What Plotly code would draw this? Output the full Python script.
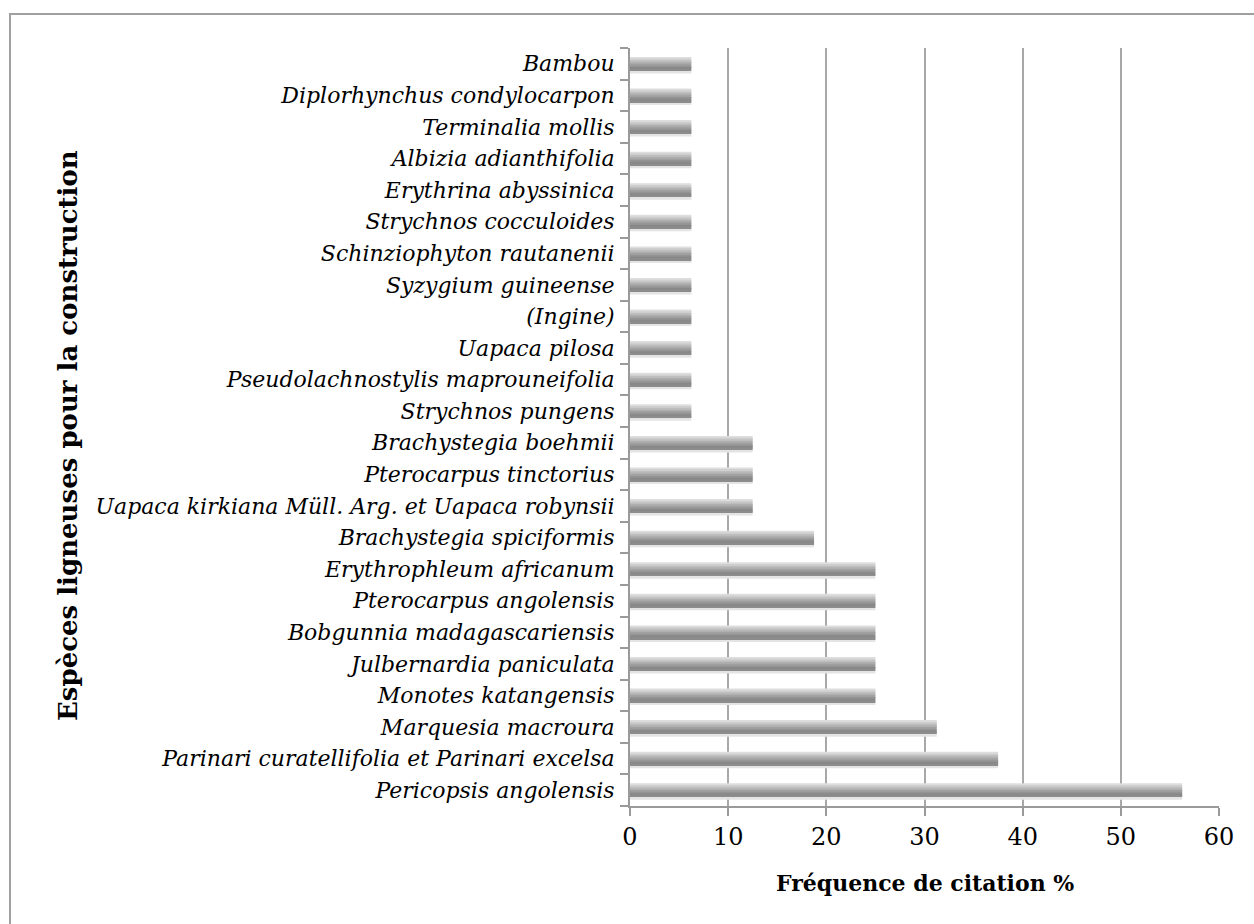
import plotly.graph_objects as go

# Species, listed bottom to top as they appear on the chart
species = [
    "Pericopsis angolensis",
    "Parinari curatellifolia et Parinari excelsa",
    "Marquesia macroura",
    "Monotes katangensis",
    "Julbernardia paniculata",
    "Bobgunnia madagascariensis",
    "Pterocarpus angolensis",
    "Erythrophleum africanum",
    "Brachystegia spiciformis",
    "Uapaca kirkiana Müll. Arg. et Uapaca robynsii",
    "Pterocarpus tinctorius",
    "Brachystegia boehmii",
    "Strychnos pungens",
    "Pseudolachnostylis maprouneifolia",
    "Uapaca pilosa",
    "(Ingine)",
    "Syzygium guineense",
    "Schinziophyton rautanenii",
    "Strychnos cocculoides",
    "Erythrina abyssinica",
    "Albizia adianthifolia",
    "Terminalia mollis",
    "Diplorhynchus condylocarpon",
    "Bambou",
]

# Citation frequency (%)
frequency = [
    56.25, 37.5, 31.25, 25, 25, 25, 25, 25, 18.75, 12.5, 12.5, 12.5,
    6.25, 6.25, 6.25, 6.25, 6.25, 6.25, 6.25, 6.25, 6.25, 6.25, 6.25, 6.25,
]

x_ticks = [0, 10, 20, 30, 40, 50, 60]

fig = go.Figure()

# Shaded cylinder look: stack thin horizontal slices, light on top to dark below,
# with a faint shadow band under each bar.
bar_thick = 0.43
shades = ["#dedede", "#cfcfcf", "#bebebe", "#afafaf", "#a0a0a0",
          "#939393", "#888888", "#8c8c8c"]
n = len(shades)
slice_w = bar_thick / n
top = bar_thick / 2
# shadow under the bar
fig.add_trace(go.Bar(
    y=species, x=frequency, orientation="h",
    width=0.09, offset=-top - 0.09,
    marker=dict(color="#e4e4e4", line=dict(width=0)),
    hoverinfo="skip", showlegend=False,
))
for i, c in enumerate(shades):
    fig.add_trace(go.Bar(
        y=species, x=frequency, orientation="h",
        width=slice_w + 0.003, offset=top - (i + 1) * slice_w,
        marker=dict(color=c, line=dict(width=0)),
        hoverinfo="skip" if i else None, showlegend=False,
    ))

axis_col = "#9a9a9a"
font_family = "DejaVu Serif"

fig.update_layout(
    width=1254, height=924,
    margin=dict(l=630, r=35, t=48, b=118),
    barmode="overlay",
    plot_bgcolor="white", paper_bgcolor="white",
    font=dict(family=font_family, color="black"),
    xaxis=dict(
        range=[0, 60], tickvals=x_ticks, ticktext=[str(v) for v in x_ticks],
        showgrid=True, gridcolor="#a8a8a8", gridwidth=2,
        showline=True, linecolor=axis_col, linewidth=2,
        ticks="outside", ticklen=8, tickwidth=2, tickcolor=axis_col,
        tickfont=dict(size=24, family=font_family),
        ticklabelstandoff=0,
        zeroline=False, fixedrange=True,
    ),
    yaxis=dict(
        type="category", categoryorder="array", categoryarray=species,
        range=[-0.5, len(species) - 0.5],
        tickson="boundaries",
        showline=True, linecolor=axis_col, linewidth=2,
        ticks="outside", ticklen=8, tickwidth=2, tickcolor=axis_col,
        tickfont=dict(size=22, family=font_family, style="italic"),
        ticklabelstandoff=9,
        showgrid=False, zeroline=False, fixedrange=True,
    ),
    annotations=[
        dict(text="<b>Fréquence de citation %</b>", xref="paper", yref="paper",
             x=0.5, y=(806 - 883) / 758, yanchor="middle", xanchor="center",
             showarrow=False,
             font=dict(size=22, family=font_family)),
        dict(text="<b>Espèces ligneuses pour la construction</b>", xref="paper",
             yref="paper", x=(68 - 630) / 589, y=(806 - 436) / 758,
             textangle=-90, xanchor="center", yanchor="middle", showarrow=False,
             font=dict(size=26, family=font_family)),
    ],
    shapes=[
        dict(type="rect", xref="paper", yref="paper",
             x0=(10 - 630) / 589, x1=1.2, y0=-0.4, y1=(806 - 14) / 758,
             line=dict(color="#a0a0a0", width=2), layer="below"),
    ],
)

fig.write_html("out.html")
